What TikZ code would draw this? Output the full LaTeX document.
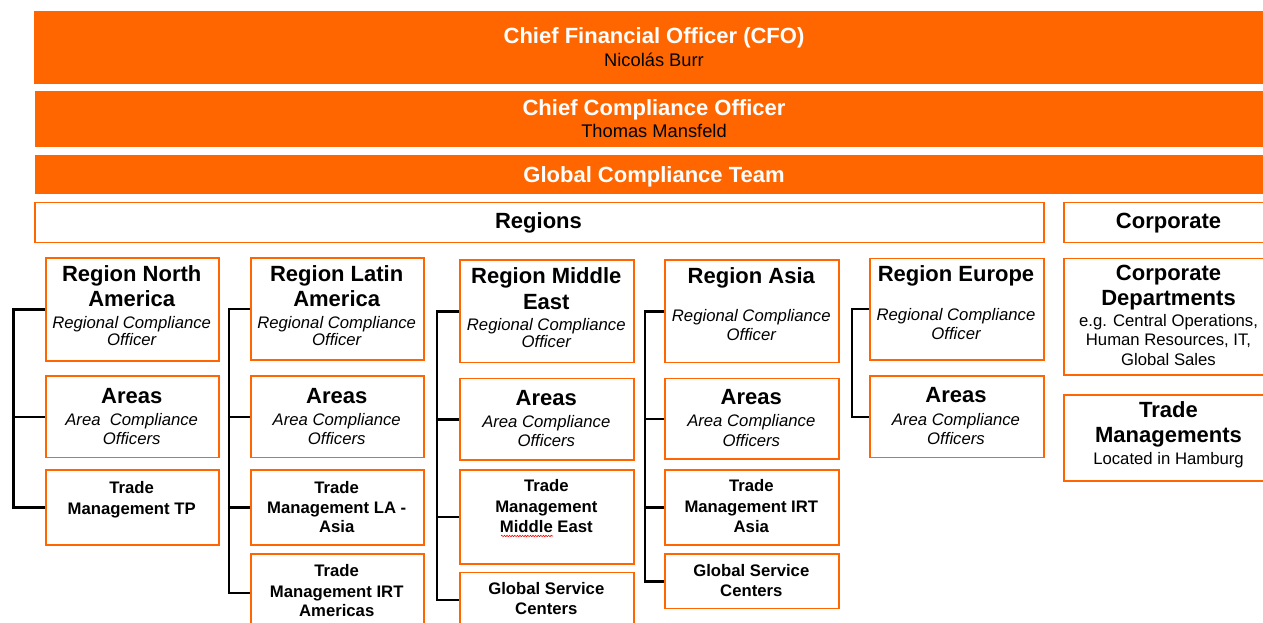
\documentclass[tikz,border=0pt]{standalone}
\usepackage{fontspec}
\setmainfont{Liberation Sans}
\usetikzlibrary{decorations.pathmorphing}
\definecolor{org}{HTML}{FF6600}
\tikzset{
  bar/.style={fill=org, draw=none, anchor=north west, inner sep=0pt},
  box/.style={draw=org, line width=1.7pt, fill=white, anchor=north west, inner sep=0pt},
  conn/.style={line width=2.4pt, draw=black},
  ttl/.style={font=\fontsize{22}{25}\selectfont\bfseries, anchor=base, inner sep=0pt},
  wttl/.style={ttl, text=white},
  sub/.style={font=\fontsize{16.7}{18}\selectfont\itshape, anchor=base, inner sep=0pt},
  tm/.style={font=\fontsize{16.7}{20}\selectfont\bfseries, anchor=base, inner sep=0pt},
  nm/.style={font=\fontsize{18.3}{20}\selectfont, anchor=base, inner sep=0pt},
  rg/.style={font=\fontsize{16.7}{19}\selectfont, anchor=base, inner sep=0pt},
  squig/.style={draw=red, line width=0.6pt, decorate, decoration={snake, amplitude=0.7pt, segment length=2.6pt}}
}
\begin{document}
\begin{tikzpicture}[x=1pt,y=-1pt]
\useasboundingbox (0,0) rectangle (1263,623);
\clip (0,0) rectangle (1263,623);
\fill[white] (0,0) rectangle (1263,623);

% top bars
\node[bar, minimum width=1240, minimum height=73] (cfo) at (34,11) {};
\node[bar, minimum width=1240, minimum height=56] (cco) at (35,91) {};
\node[bar, minimum width=1240, minimum height=39] (gct) at (35,155) {};
\node[wttl] (cfoT) at (654,44) {Chief Financial Officer (CFO)};
\node[nm] (cfoN) at (654,67) {Nicolás Burr};
\node[wttl] (ccoT) at (654,116) {Chief Compliance Officer};
\node[nm] (ccoN) at (654,138) {Thomas Mansfeld};
\node[wttl] (gctT) at (654,182) {Global Compliance Team};

% section headers
\node[box, minimum width=1009, minimum height=40] (reg) at (34,201.5) {};
\node[ttl] (regT) at (538.5,228) {Regions};
\node[box, minimum width=211, minimum height=40] (corp) at (1063,201.5) {};
\node[ttl] (corpT) at (1168.5,228.3) {Corporate};

% column 1: North America
\node[box, minimum width=173.3, minimum height=102.7] (na1) at (45,257.3) {};
\node[box, minimum width=173.3, minimum height=81.7] (na2) at (45,375) {};
\node[box, minimum width=173.3, minimum height=74.7] (na3) at (45,469.3) {};
% column 2: Latin America
\node[box, minimum width=173.3, minimum height=102] (la1) at (250,257.3) {};
\node[box, minimum width=173.3, minimum height=81.7] (la2) at (250,375) {};
\node[box, minimum width=173.3, minimum height=74.7] (la3) at (250,469.3) {};
\node[box, minimum width=173.3, minimum height=78] (la4) at (250,553.3) {};
% column 3: Middle East
\node[box, minimum width=174, minimum height=102.4] (me1) at (459.3,259.3) {};
\node[box, minimum width=174, minimum height=81.6] (me2) at (459.3,377.7) {};
\node[box, minimum width=174, minimum height=94] (me3) at (459.3,469.3) {};
\node[box, minimum width=174, minimum height=55] (me4) at (459.3,571.7) {};
% column 4: Asia
\node[box, minimum width=174, minimum height=102.4] (as1) at (664.3,259.3) {};
\node[box, minimum width=174, minimum height=80.6] (as2) at (664.3,377.7) {};
\node[box, minimum width=174, minimum height=74.7] (as3) at (664.3,469.3) {};
\node[box, minimum width=174, minimum height=54.4] (as4) at (664.3,553.3) {};
% column 5: Europe
\node[box, minimum width=174, minimum height=101.3] (eu1) at (869,257.7) {};
\node[box, minimum width=174, minimum height=81.7] (eu2) at (869,375) {};
% corporate column
\node[box, minimum width=211, minimum height=116.6] (co1) at (1063,257.7) {};
\node[box, minimum width=211, minimum height=86] (co2) at (1063,394) {};

% spines
\coordinate (s1) at (13.3,0);
\coordinate (s2) at (229,0);
\coordinate (s3) at (437,0);
\coordinate (s4) at (645,0);
\coordinate (s5) at (852,0);

\draw[conn] (na1.west) -- (na1.west -| s1) |- (na3.west);
\draw[conn] (na2.west) -- (na2.west -| s1);
\draw[conn] (la1.west) -- (la1.west -| s2) |- (la4.west);
\draw[conn] (la2.west) -- (la2.west -| s2);
\draw[conn] (la3.west) -- (la3.west -| s2);
\draw[conn] (me1.west) -- (me1.west -| s3) |- (me4.west);
\draw[conn] (me2.west) -- (me2.west -| s3);
\draw[conn] (me3.west) -- (me3.west -| s3);
\draw[conn] (as1.west) -- (as1.west -| s4) |- (as4.west);
\draw[conn] (as2.west) -- (as2.west -| s4);
\draw[conn] (as3.west) -- (as3.west -| s4);
\draw[conn] (eu1.west) -- (eu1.west -| s5) |- (eu2.west);

% texts column 1
\node[ttl] (na1a) at (131.7,281.7) {Region North};
\node[ttl] (na1b) at (131.7,306.7) {America};
\node[sub] (na1c) at (131.7,328) {Regional Compliance};
\node[sub] (na1d) at (131.7,345.3) {Officer};
\node[ttl] (na2a) at (131.7,403.3) {Areas};
\node[sub] (na2b) at (131.7,425.8) {Area\ \ Compliance};
\node[sub] (na2c) at (131.7,444.3) {Officers};
\node[tm] (na3a) at (131.7,493.3) {Trade};
\node[tm] (na3b) at (131.7,514) {Management TP};

% texts column 2
\node[ttl] (la1a) at (336.7,281.7) {Region Latin};
\node[ttl] (la1b) at (336.7,306.7) {America};
\node[sub] (la1c) at (336.7,328) {Regional Compliance};
\node[sub] (la1d) at (336.7,345.3) {Officer};
\node[ttl] (la2a) at (336.7,403.3) {Areas};
\node[sub] (la2b) at (336.7,425.8) {Area Compliance};
\node[sub] (la2c) at (336.7,444.3) {Officers};
\node[tm] (la3a) at (336.7,493.3) {Trade};
\node[tm] (la3b) at (336.7,513.5) {Management LA -};
\node[tm] (la3c) at (336.7,532.7) {Asia};
\node[tm] (la4a) at (336.7,576.7) {Trade};
\node[tm] (la4b) at (336.7,597.3) {Management IRT};
\node[tm] (la4c) at (336.7,616.7) {Americas};

% texts column 3
\node[ttl] (me1a) at (546.3,283.3) {Region Middle};
\node[ttl] (me1b) at (546.3,309.3) {East};
\node[sub] (me1c) at (546.3,330) {Regional Compliance};
\node[sub] (me1d) at (546.3,347.7) {Officer};
\node[ttl] (me2a) at (546.3,405.7) {Areas};
\node[sub] (me2b) at (546.3,427.7) {Area Compliance};
\node[sub] (me2c) at (546.3,446.7) {Officers};
\node[tm] (me3a) at (546.3,491.7) {Trade};
\node[tm] (me3b) at (546.3,512.7) {Management};
\node[tm] (me3c) at (546.3,532.7) {Middle East};
\draw[squig] (501,536) -- (553,536);
\node[tm] (me4a) at (546.3,594.3) {Global Service};
\node[tm] (me4b) at (546.3,614.3) {Centers};

% texts column 4
\node[ttl] (as1a) at (751.3,283.3) {Region Asia};
\node[sub] (as1c) at (751.3,321.7) {Regional Compliance};
\node[sub] (as1d) at (751.3,340.7) {Officer};
\node[ttl] (as2a) at (751.3,404.3) {Areas};
\node[sub] (as2b) at (751.3,426.7) {Area Compliance};
\node[sub] (as2c) at (751.3,446) {Officers};
\node[tm] (as3a) at (751.3,491.7) {Trade};
\node[tm] (as3b) at (751.3,512.7) {Management IRT};
\node[tm] (as3c) at (751.3,532.7) {Asia};
\node[tm] (as4a) at (751.3,576.7) {Global Service};
\node[tm] (as4b) at (751.3,596.7) {Centers};

% texts column 5
\node[ttl] (eu1a) at (956,281.7) {Region Europe};
\node[sub] (eu1c) at (956,320.7) {Regional Compliance};
\node[sub] (eu1d) at (956,339) {Officer};
\node[ttl] (eu2a) at (956,402.7) {Areas};
\node[sub] (eu2b) at (956,425) {Area Compliance};
\node[sub] (eu2c) at (956,444) {Officers};

% texts corporate
\node[ttl] (co1a) at (1168.5,280.7) {Corporate};
\node[ttl] (co1b) at (1168.5,305) {Departments};
\node[rg] (co1c) at (1168.5,326.7) {e.g. Central Operations,};
\node[rg] (co1d) at (1168.5,345.7) {Human Resources, IT,};
\node[rg] (co1e) at (1168.5,365) {Global Sales};
\node[ttl] (co2a) at (1168.5,417.3) {Trade};
\node[ttl] (co2b) at (1168.5,442.7) {Managements};
\node[rg] (co2c) at (1168.5,464) {Located in Hamburg};
\end{tikzpicture}
\end{document}
